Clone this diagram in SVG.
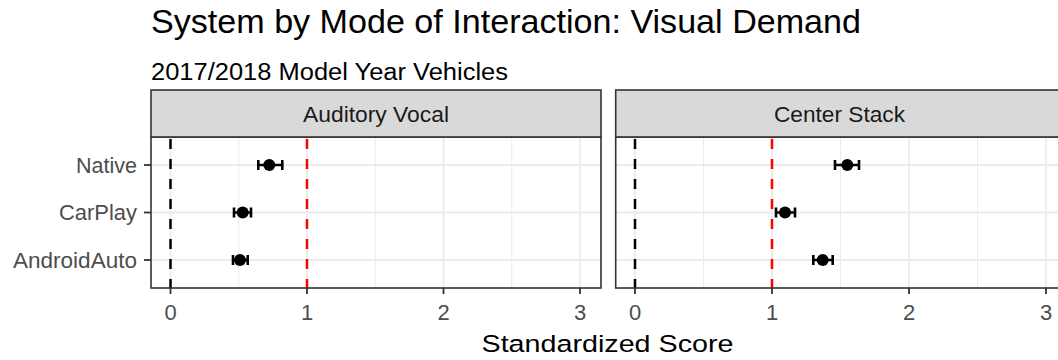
<svg xmlns="http://www.w3.org/2000/svg" width="1058" height="360" viewBox="0 0 1058 360">
<style>
text{font-family:"Liberation Sans",Arial,sans-serif}
.title{font-size:33px;fill:#000}
.sub{font-size:23px;fill:#000}
.strip{font-size:21.5px;fill:#1a1a1a;text-anchor:middle}
.ylab{font-size:21.5px;fill:#4d4d4d;text-anchor:end}
.tick{font-size:22px;fill:#4d4d4d;text-anchor:middle}
.xtitle{font-size:24.5px;fill:#000;text-anchor:middle}
.stripbox{fill:#d9d9d9;stroke:#333;stroke-width:1.6}
.panel{fill:#fff}
.border{fill:none;stroke:#333;stroke-width:1.6}
.gmaj{stroke:#ebebeb;stroke-width:1.8}
.gmin{stroke:#ebebeb;stroke-width:1}
.tk{stroke:#333;stroke-width:1.8}
.ref0{stroke:#000;stroke-width:2.5;stroke-dasharray:10 10}
.ref1{stroke:#f00;stroke-width:2.5;stroke-dasharray:10 10}
.eb{stroke:#000;stroke-width:2.6;fill:none}
.pt{fill:#000}
</style>
<rect width="1058" height="360" fill="#fff"/>
<text class="title" x="151" y="33" textLength="710" lengthAdjust="spacingAndGlyphs">System by Mode of Interaction: Visual Demand</text>
<text class="sub" x="151" y="80" textLength="357" lengthAdjust="spacingAndGlyphs">2017/2018 Model Year Vehicles</text>

<g id="panel-auditory-vocal">
<rect class="panel" x="151" y="137" width="450" height="151"/>
<line class="gmin" x1="238.75" y1="137" x2="238.75" y2="288"/>
<line class="gmin" x1="375.25" y1="137" x2="375.25" y2="288"/>
<line class="gmin" x1="511.75" y1="137" x2="511.75" y2="288"/>
<line class="gmaj" x1="170.5" y1="137" x2="170.5" y2="288"/>
<line class="gmaj" x1="307" y1="137" x2="307" y2="288"/>
<line class="gmaj" x1="443.5" y1="137" x2="443.5" y2="288"/>
<line class="gmaj" x1="580" y1="137" x2="580" y2="288"/>
<line class="gmaj" x1="151" y1="165" x2="601" y2="165"/>
<line class="gmaj" x1="151" y1="212.5" x2="601" y2="212.5"/>
<line class="gmaj" x1="151" y1="260" x2="601" y2="260"/>
<line class="ref0" x1="170.5" y1="139" x2="170.5" y2="288"/>
<line class="ref1" x1="307" y1="139" x2="307" y2="288"/>
<rect class="border" x="151" y="137" width="450" height="151"/>
<rect class="stripbox" x="151" y="90" width="450" height="47"/>
<text class="strip" x="376" y="122" textLength="146" lengthAdjust="spacingAndGlyphs">Auditory Vocal</text>
</g>

<g id="panel-center-stack">
<rect class="panel" x="615.7" y="137" width="450" height="151"/>
<line class="gmin" x1="703.5" y1="137" x2="703.5" y2="288"/>
<line class="gmin" x1="840.5" y1="137" x2="840.5" y2="288"/>
<line class="gmin" x1="977.5" y1="137" x2="977.5" y2="288"/>
<line class="gmaj" x1="635" y1="137" x2="635" y2="288"/>
<line class="gmaj" x1="772" y1="137" x2="772" y2="288"/>
<line class="gmaj" x1="909" y1="137" x2="909" y2="288"/>
<line class="gmaj" x1="1046" y1="137" x2="1046" y2="288"/>
<line class="gmaj" x1="615.7" y1="165" x2="1064" y2="165"/>
<line class="gmaj" x1="615.7" y1="212.5" x2="1064" y2="212.5"/>
<line class="gmaj" x1="615.7" y1="260" x2="1064" y2="260"/>
<line class="ref0" x1="635" y1="139" x2="635" y2="288"/>
<line class="ref1" x1="772" y1="139" x2="772" y2="288"/>
<rect class="border" x="615.7" y="137" width="450" height="151"/>
<rect class="stripbox" x="615.7" y="90" width="450" height="47"/>
<text class="strip" x="839.5" y="122" textLength="131" lengthAdjust="spacingAndGlyphs">Center Stack</text>
</g>

<g id="y-axis">
<line class="tk" x1="144" y1="165" x2="151" y2="165"/>
<line class="tk" x1="144" y1="212.5" x2="151" y2="212.5"/>
<line class="tk" x1="144" y1="260" x2="151" y2="260"/>
<text class="ylab" x="137" y="172.5" textLength="61" lengthAdjust="spacingAndGlyphs">Native</text>
<text class="ylab" x="137" y="220" textLength="78" lengthAdjust="spacingAndGlyphs">CarPlay</text>
<text class="ylab" x="137" y="267.5" textLength="124" lengthAdjust="spacingAndGlyphs">AndroidAuto</text>
</g>

<g id="x-axis">
<line class="tk" x1="170.5" y1="288" x2="170.5" y2="294"/>
<line class="tk" x1="307" y1="288" x2="307" y2="294"/>
<line class="tk" x1="443.5" y1="288" x2="443.5" y2="294"/>
<line class="tk" x1="580" y1="288" x2="580" y2="294"/>
<line class="tk" x1="635" y1="288" x2="635" y2="294"/>
<line class="tk" x1="772" y1="288" x2="772" y2="294"/>
<line class="tk" x1="909" y1="288" x2="909" y2="294"/>
<line class="tk" x1="1046" y1="288" x2="1046" y2="294"/>
<text class="tick" x="170.5" y="319.5">0</text>
<text class="tick" x="307" y="319.5">1</text>
<text class="tick" x="443.5" y="319.5">2</text>
<text class="tick" x="580" y="319.5">3</text>
<text class="tick" x="635" y="319.5">0</text>
<text class="tick" x="772" y="319.5">1</text>
<text class="tick" x="909" y="319.5">2</text>
<text class="tick" x="1046" y="319.5">3</text>
<text class="xtitle" x="607.5" y="352" textLength="252" lengthAdjust="spacingAndGlyphs">Standardized Score</text>
</g>

<g id="connectors">
<path class="eb" d="M258.3 165H282.3M258.3 160V170M282.3 160V170"/>
<path class="eb" d="M234 212.5H251M234 207.5V217.5M251 207.5V217.5"/>
<path class="eb" d="M233 260H247.7M233 255V265M247.7 255V265"/>
<path class="eb" d="M835 165H859M835 160V170M859 160V170"/>
<path class="eb" d="M776 212.5H795M776 207.5V217.5M795 207.5V217.5"/>
<path class="eb" d="M813.3 260H832.7M813.3 255V265M832.7 255V265"/>
</g>

<g id="points">
<circle class="pt" cx="269.3" cy="165" r="6"/>
<circle class="pt" cx="242.7" cy="212.5" r="6"/>
<circle class="pt" cx="240" cy="260" r="6"/>
<circle class="pt" cx="847.3" cy="165" r="6"/>
<circle class="pt" cx="785" cy="212.5" r="6"/>
<circle class="pt" cx="822.7" cy="260" r="6"/>
</g>
</svg>
